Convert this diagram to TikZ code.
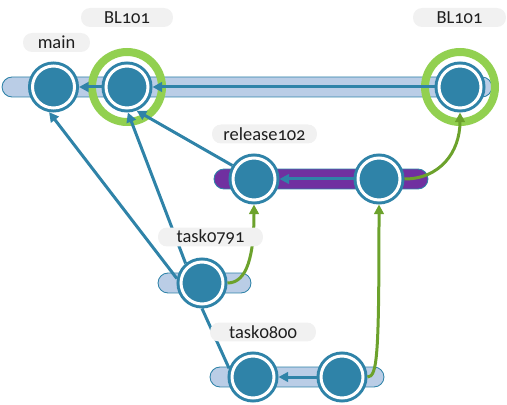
\documentclass[tikz,border=0pt]{standalone}
\usepackage{fontspec}
\setmainfont{Carlito}[Numbers=OldStyle]
\usetikzlibrary{arrows.meta,positioning}
\definecolor{commitblue}{RGB}{47,131,168}
\definecolor{lanefill}{RGB}{186,205,230}
\definecolor{releasepurple}{RGB}{112,48,160}
\definecolor{ringgreen}{RGB}{146,208,80}
\definecolor{mergegreen}{RGB}{108,162,44}
\definecolor{tagfill}{RGB}{241,241,241}
\definecolor{tagtext}{RGB}{30,30,30}

\begin{document}
\begin{tikzpicture}[x=0.02cm, y=-0.02cm, >={Triangle[length=5.5pt,width=5.5pt]},
  font=\fontsize{10.5}{12}\selectfont,
  lane/.style={draw=commitblue, line width=0.5pt, fill=lanefill, rounded corners=0.2cm, minimum height=0.4cm, inner sep=0pt},
  glow/.style={circle, draw=ringgreen, line width=0.16cm, minimum size=1.4cm, inner sep=0pt},
  commit/.style={circle, draw=commitblue, double=white, line width=0.06cm, double distance=0.06cm, fill=commitblue, minimum size=0.84cm, inner sep=0pt, outer sep=0.09cm},
  flow/.style={->, draw=commitblue, line width=0.06cm},
  merge/.style={->, draw=mergegreen, line width=0.06cm},
  tag/.style={fill=tagfill, rounded corners=0.18cm, minimum height=0.38cm, inner sep=0pt, text=tagtext}]
\useasboundingbox (0,0) rectangle (507,405);
% branch lanes
\node[lane, minimum width=9.8cm] (mainlane) at (247,87) {};
\node[lane, fill=releasepurple, minimum width=4.28cm] (relane) at (321,179) {};
\node[lane, minimum width=1.86cm] (t791lane) at (204.5,283) {};
\node[lane, minimum width=3.48cm] (t800lane) at (297,377) {};
% baseline rings
\node[glow] (blring1) at (127,87) {};
\node[glow] (blring2) at (460,87) {};
% commits
\node[commit] (ma) at (53.5,87) {};
\node[commit] (bl1) at (127,87) {};
\node[commit] (bl2) at (460,87) {};
\node[commit] (re1) at (254,179) {};
\node[commit] (re2) at (379,179) {};
\node[commit] (t791) at (202,283) {};
\node[commit] (t800a) at (253,377) {};
\node[commit] (t800b) at (342,377) {};
% parents
\draw[flow] (bl1) -- (ma);
\draw[flow] (bl2) -- (bl1);
\draw[flow] (re2) -- (re1);
\draw[flow] (t800b) -- (t800a);
\draw[flow] (re1.148) -- (bl1.-68);
\draw[flow] (t791.170) -- (ma.-100);
\draw[flow] (t791.130) -- (bl1.-88);
\draw[draw=commitblue, line width=0.06cm] (t800a.160) -- (t791.-90);
% merges
\draw[merge] (t791.east) .. controls +(20,0) and +(0,50) .. (re1.south);
\draw[merge] (t800b.east) .. controls +(10,0) and +(0,150) .. (re2.south);
\draw[merge] (re2.east) .. controls +(35,0) and +(0,40) .. (bl2.south);
% labels
\node[tag, minimum width=1.34cm] (mainlbl) at (56.5,42.5) {main};
\node[tag, minimum width=1.84cm] (bl1lbl) at (127,17.5) {BL101};
\node[tag, minimum width=1.86cm] (bl2lbl) at (459.5,17.5) {BL101};
\node[tag, minimum width=2.1cm] (relbl) at (264.5,134) {release102};
\node[tag, minimum width=2.1cm] (t791lbl) at (210.5,237) {task0791};
\node[tag, minimum width=2.12cm] (t800lbl) at (263,332) {task0800};
\end{tikzpicture}
\end{document}
